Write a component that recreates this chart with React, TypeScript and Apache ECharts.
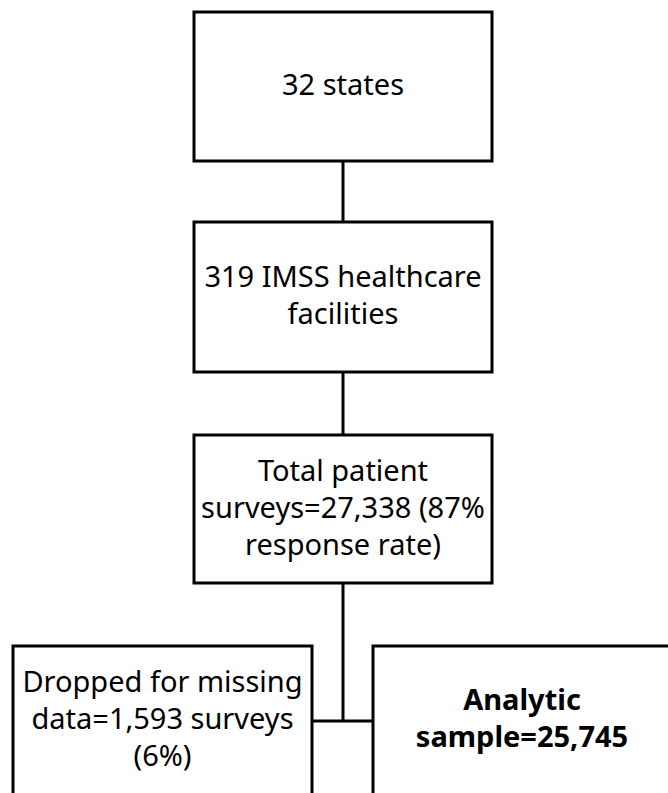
import React, { useEffect, useRef } from "react";
import * as echarts from "echarts";

// Flowchart content
const stageLabels: string[] = [
  "32 states",
  "319 IMSS healthcare\nfacilities",
  "Total patient\nsurveys=27,338 (87%\nresponse rate)",
];
const excludedLabel: string = "Dropped for missing\ndata=1,593 surveys\n(6%)";
const finalLabel: string = "Analytic\nsample=25,745";

// Layout (pixels)
const W = 668;
const H = 793;
const BOX_X = 194;
const BOX_W = 298;
const STAGE_TOPS = [12, 222, 435];
const STAGE_BOTTOMS = [161, 372, 583];
const CENTER_X = 343;
const BOTTOM_TOP = 646;
const BRANCH_Y = 721;
const LEFT_BOX = { x: 13, w: 299 };
const RIGHT_BOX = { x: 373, w: 300 };
const FONT = '"Noto Sans", "Open Sans", sans-serif';
const FS = 29;
const LH = 37;
const LW = 3;
const TEXT_DY = -3;

export default function App() {
  const ref = useRef<HTMLDivElement>(null);
  useEffect(() => {
    if (!ref.current) return;
    const chart = echarts.init(ref.current, null, { renderer: "svg" });
    const elements: any[] = [];
    const lineStyle = { stroke: "#000", lineWidth: LW };
    const textStyle = (text: string, x: number, y: number, bold = false) => ({
      type: "text",
      z: 10,
      style: {
        text,
        x,
        y: y + TEXT_DY,
        align: "center",
        verticalAlign: "middle",
        fontFamily: FONT,
        fontSize: FS,
        fontWeight: bold ? "bold" : "normal",
        lineHeight: LH,
        fill: "#000",
      },
    });

    stageLabels.forEach((label, i) => {
      const top = STAGE_TOPS[i];
      const bottom = STAGE_BOTTOMS[i];
      elements.push({
        type: "rect",
        shape: { x: BOX_X, y: top, width: BOX_W, height: bottom - top },
        style: { fill: "#fff", ...lineStyle },
      });
      elements.push(textStyle(label, BOX_X + BOX_W / 2, (top + bottom) / 2));
      if (i < stageLabels.length - 1) {
        elements.push({
          type: "line",
          shape: { x1: CENTER_X, y1: bottom, x2: CENTER_X, y2: STAGE_TOPS[i + 1] },
          style: lineStyle,
        });
      }
    });

    // bottom connector
    elements.push({
      type: "line",
      shape: {
        x1: CENTER_X,
        y1: STAGE_BOTTOMS[STAGE_BOTTOMS.length - 1],
        x2: CENTER_X,
        y2: BRANCH_Y,
      },
      style: lineStyle,
    });
    elements.push({
      type: "line",
      shape: { x1: LEFT_BOX.x + LEFT_BOX.w, y1: BRANCH_Y, x2: RIGHT_BOX.x, y2: BRANCH_Y },
      style: lineStyle,
    });

    // bottom boxes (extend beyond the canvas)
    elements.push({
      type: "rect",
      shape: { x: LEFT_BOX.x, y: BOTTOM_TOP, width: LEFT_BOX.w, height: 200 },
      style: { fill: "#fff", ...lineStyle },
    });
    elements.push({
      type: "rect",
      shape: { x: RIGHT_BOX.x, y: BOTTOM_TOP, width: RIGHT_BOX.w, height: 200 },
      style: { fill: "#fff", ...lineStyle },
    });
    elements.push(textStyle(excludedLabel, LEFT_BOX.x + LEFT_BOX.w / 2, 720));
    elements.push(textStyle(finalLabel, 522, 720, true));

    chart.setOption({
      animation: false,
      backgroundColor: "#fff",
      graphic: { elements },
    });
    return () => chart.dispose();
  }, []);

  return (
    <div
      ref={ref}
      style={{ position: "absolute", left: 0, top: 0, width: W, height: H }}
    />
  );
}
